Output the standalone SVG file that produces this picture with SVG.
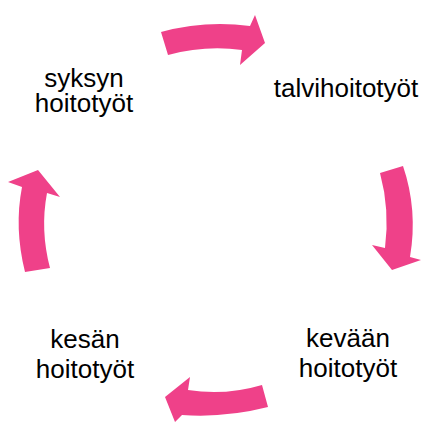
<svg xmlns="http://www.w3.org/2000/svg" width="422" height="423" viewBox="0 0 422 423">
<style>
.lbl{font-family:"Liberation Sans",Arial,sans-serif;font-size:26px;fill:#000;text-anchor:middle}
.arr{fill:#EF4189;stroke:none}
</style>
<rect width="422" height="423" fill="#fff"/>
<g id="connectors">
<path class="arr" d="M161,32 Q205,20 250,26 L255,15 L265,43 L240,65 L242,50 Q205,45 168,55 Z"/>
<path class="arr" d="M380,173 L403,166 Q418,210 410,257 L421,260 L392,270 L372,245 L385,248 Q390,210 380,173 Z"/>
<path class="arr" d="M262,385 Q225,396 188,390 L190,377 L165,397 L175,422 L182,415 Q225,418 268,407 Z"/>
<path class="arr" d="M25,272 Q14,228 22,187 L8,182 L38,170 L60,197 L47,193 Q40,230 50,268 Z"/>
</g>
<g id="syksyn">
<text class="lbl" x="84" y="87">syksyn</text>
<text class="lbl" x="84" y="112">hoitotyöt</text>
</g>
<g id="talvi">
<text class="lbl" x="346" y="97">talvihoitotyöt</text>
</g>
<g id="kevaan">
<text class="lbl" x="348" y="347">kevään</text>
<text class="lbl" x="348" y="377">hoitotyöt</text>
</g>
<g id="kesan">
<text class="lbl" x="85" y="348">kesän</text>
<text class="lbl" x="85" y="378">hoitotyöt</text>
</g>
</svg>
